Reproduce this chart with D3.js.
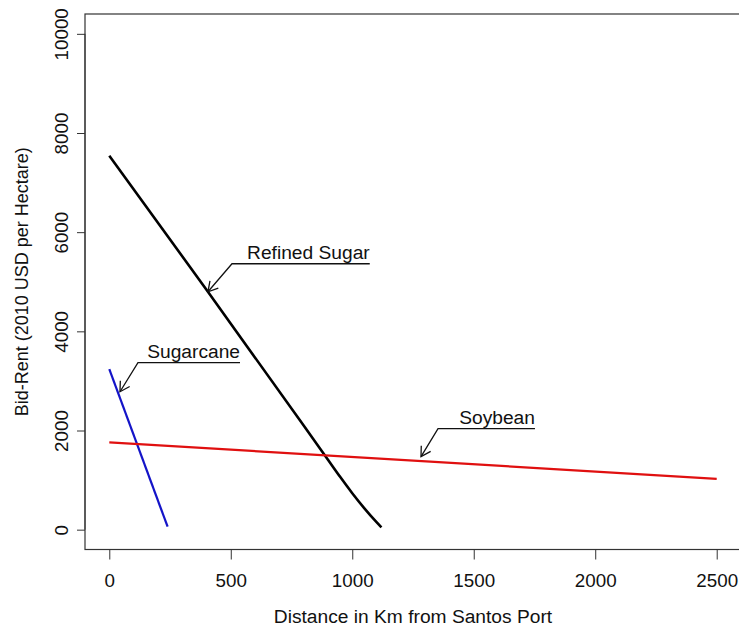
<!DOCTYPE html>
<html>
<head>
<meta charset="utf-8">
<script src="https://cdn.jsdelivr.net/npm/d3@7"></script>
<style>
  html, body { margin: 0; padding: 0; background: #fff; }
  svg { display: block; font-family: "Liberation Sans", Arial, sans-serif; }
</style>
</head>
<body>
<svg id="chart" width="739" height="628"></svg>
<script>
// ---- data ----
const xTicks = [0, 500, 1000, 1500, 2000, 2500];
const yTicks = [0, 2000, 4000, 6000, 8000, 10000];

const refinedSugarX = [0, 400, 800, 900, 950, 1000, 1050, 1100, 1120];
const refinedSugarY = [7540, 4840, 2100, 1410, 1065, 735, 430, 150, 45];

const sugarcaneX = [0, 240];
const sugarcaneY = [3240, 60];

const soybeanX = [0, 2500];
const soybeanY = [1760, 1025];

const seriesNames = ["Refined Sugar", "Sugarcane", "Soybean"];
const seriesColors = ["#000000", "#1414c8", "#e01010"];

// annotation anchors in data units: arrow tip, elbow, underline end
const annLabels = ["Refined Sugar", "Sugarcane", "Soybean"];
const annTipX = [406, 44, 1283];
const annTipY = [4798, 2782, 1472];
const annElbowX = [505, 118, 1353];
const annElbowY = [5363, 3367, 2036];
const annEndX = [1072, 538, 1752];

// ---- layout ----
const svg = d3.select("#chart");
const x = d3.scaleLinear().domain([-100, 2600]).range([85, 741]);
const y = d3.scaleLinear().domain([-400, 10400]).range([549.5, 14]);
const fs = 18.8;
const frameColor = "#333";
const textColor = "#111";

// frame
svg.append("rect")
  .attr("x", x(-100)).attr("y", y(10400))
  .attr("width", x(2600) - x(-100)).attr("height", y(-400) - y(10400))
  .attr("fill", "none").attr("stroke", frameColor).attr("stroke-width", 1.2);

// x axis
const xAxis = d3.axisBottom(x).tickValues(xTicks).tickSize(10).tickPadding(14)
  .tickFormat(d3.format("d"));
const gx = svg.append("g").attr("transform", `translate(0,${y(-400)})`).call(xAxis);
gx.select(".domain").attr("d", `M${x(0)},0H${x(2500)}`).attr("stroke", frameColor);
gx.selectAll(".tick line").attr("stroke", frameColor);
gx.selectAll(".tick text").attr("font-size", fs).attr("fill", textColor)
  .attr("font-family", "Liberation Sans, Arial, sans-serif");

// y axis
const yAxis = d3.axisLeft(y).tickValues(yTicks).tickSize(8).tickPadding(0)
  .tickFormat(d3.format("d"));
const gy = svg.append("g").attr("transform", `translate(${x(-100)},0)`).call(yAxis);
gy.select(".domain").attr("d", `M0,${y(0)}V${y(10000)}`).attr("stroke", frameColor);
gy.selectAll(".tick line").attr("stroke", frameColor);
gy.selectAll(".tick text")
  .attr("x", null).attr("dy", null)
  .attr("transform", "translate(-17,0) rotate(-90)")
  .attr("text-anchor", "middle")
  .attr("font-size", fs).attr("fill", textColor)
  .attr("font-family", "Liberation Sans, Arial, sans-serif");

// axis titles
svg.append("text")
  .attr("x", (x(-100) + x(2600)) / 2).attr("y", 623)
  .attr("text-anchor", "middle").attr("font-size", 19.2).attr("fill", textColor)
  .text("Distance in Km from Santos Port");
svg.append("text")
  .attr("transform", `translate(28,${(y(-400) + y(10400)) / 2}) rotate(-90)`)
  .attr("text-anchor", "middle").attr("font-size", 18).attr("fill", textColor)
  .text("Bid-Rent (2010 USD per Hectare)");

// series lines
const line = d3.line().x(d => x(d[0])).y(d => y(d[1])).curve(d3.curveMonotoneX);
const seriesData = [
  d3.zip(refinedSugarX, refinedSugarY),
  d3.zip(sugarcaneX, sugarcaneY),
  d3.zip(soybeanX, soybeanY)
];
const widths = [2.6, 2.2, 2.2];
seriesData.forEach((pts, i) => {
  svg.append("path").datum(pts)
    .attr("d", line)
    .attr("fill", "none")
    .attr("stroke", seriesColors[i])
    .attr("stroke-width", widths[i])
    .attr("stroke-linejoin", "round");
});

// annotations
annLabels.forEach((lab, i) => {
  const tx = x(annTipX[i]), ty = y(annTipY[i]);
  const ex = x(annElbowX[i]), ey = y(annElbowY[i]);
  const endx = x(annEndX[i]);
  const g = svg.append("g");
  g.append("path")
    .attr("d", `M${endx},${ey}H${ex}L${tx},${ty}`)
    .attr("fill", "none").attr("stroke", textColor).attr("stroke-width", 1.3);
  const ang = Math.atan2(ey - ty, ex - tx);
  const L = 11, a = Math.PI / 6;
  const p1 = [tx + L * Math.cos(ang + a), ty + L * Math.sin(ang + a)];
  const p2 = [tx + L * Math.cos(ang - a), ty + L * Math.sin(ang - a)];
  g.append("path")
    .attr("d", `M${p1[0]},${p1[1]}L${tx},${ty}L${p2[0]},${p2[1]}`)
    .attr("fill", "none").attr("stroke", textColor).attr("stroke-width", 1.3);
  g.append("text")
    .attr("x", endx).attr("y", ey - 5)
    .attr("text-anchor", "end").attr("font-size", 19.2).attr("fill", textColor)
    .text(lab);
});
</script>
</body>
</html>
